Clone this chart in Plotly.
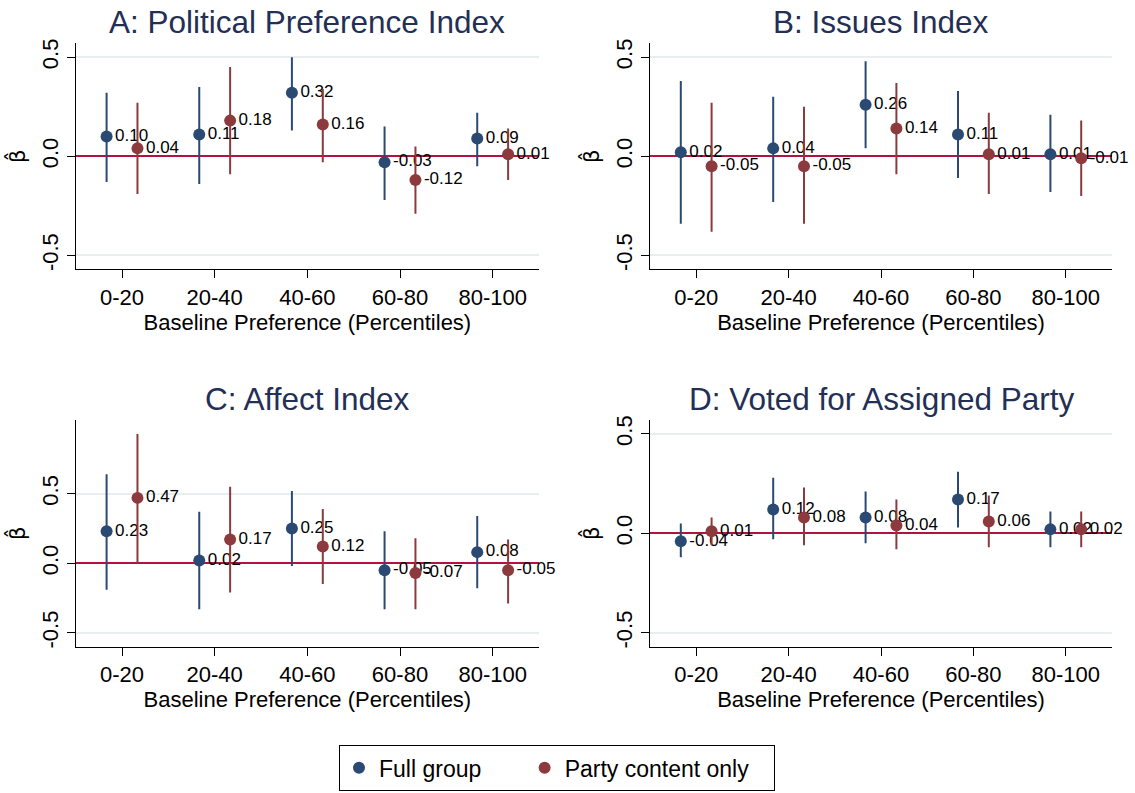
import plotly.graph_objects as go

# Percentile bins of baseline preference
categories = ["0-20", "20-40", "40-60", "60-80", "80-100"]

# Panel A: Political Preference Index
a_full = [0.10, 0.11, 0.32, -0.03, 0.09]
a_full_lo = [-0.13, -0.14, 0.13, -0.22, -0.05]
a_full_hi = [0.32, 0.35, 0.50, 0.15, 0.22]
a_party = [0.04, 0.18, 0.16, -0.12, 0.01]
a_party_lo = [-0.19, -0.09, -0.03, -0.29, -0.12]
a_party_hi = [0.27, 0.45, 0.34, 0.05, 0.14]

# Panel B: Issues Index
b_full = [0.02, 0.04, 0.26, 0.11, 0.01]
b_full_lo = [-0.34, -0.23, 0.04, -0.11, -0.18]
b_full_hi = [0.38, 0.30, 0.48, 0.33, 0.21]
b_party = [-0.05, -0.05, 0.14, 0.01, -0.01]
b_party_lo = [-0.38, -0.34, -0.09, -0.19, -0.20]
b_party_hi = [0.27, 0.25, 0.37, 0.22, 0.18]

# Panel C: Affect Index
c_full = [0.23, 0.02, 0.25, -0.05, 0.08]
c_full_lo = [-0.19, -0.33, -0.02, -0.33, -0.18]
c_full_hi = [0.64, 0.37, 0.52, 0.23, 0.34]
c_party = [0.47, 0.17, 0.12, -0.07, -0.05]
c_party_lo = [0.00, -0.21, -0.15, -0.33, -0.29]
c_party_hi = [0.93, 0.55, 0.39, 0.18, 0.17]

# Panel D: Voted for Assigned Party
d_full = [-0.04, 0.12, 0.08, 0.17, 0.02]
d_full_lo = [-0.12, -0.03, -0.05, 0.03, -0.07]
d_full_hi = [0.05, 0.28, 0.21, 0.31, 0.11]
d_party = [0.01, 0.08, 0.04, 0.06, 0.02]
d_party_lo = [-0.06, -0.06, -0.08, -0.07, -0.07]
d_party_hi = [0.08, 0.23, 0.17, 0.19, 0.11]

panel_titles = ["A: Political Preference Index", "B: Issues Index",
                "C: Affect Index", "D: Voted for Assigned Party"]
series_names = ["Full group", "Party content only"]

panels = [
    (a_full, a_full_lo, a_full_hi, a_party, a_party_lo, a_party_hi),
    (b_full, b_full_lo, b_full_hi, b_party, b_party_lo, b_party_hi),
    (c_full, c_full_lo, c_full_hi, c_party, c_party_lo, c_party_hi),
    (d_full, d_full_lo, d_full_hi, d_party, d_party_lo, d_party_hi),
]

W, H = 1135, 793
NAVY = "#2a4a74"
MAROON = "#8c3a3e"
ZERO = "#b3123f"
GRID = "#e6eef0"
TITLE_COL = "#232f55"
FONT = "Liberation Sans, Arial, sans-serif"
OFFSET = 1 / 6
NBSP = "\u00a0"

# plot-area boxes in pixels: (left, right, top, bottom)
boxes = [
    (75.7, 539.0, 43.3, 269.3),
    (650.0, 1112.0, 43.3, 269.3),
    (75.7, 539.0, 420.0, 646.7),
    (650.0, 1112.0, 420.0, 646.7),
]
y_ranges = [[-0.57, 0.57], [-0.57, 0.57], [-0.60, 1.03], [-0.57, 0.57]]

# legend labels, padded with spaces to widen the key spacing and the box
legend_labels = [series_names[0] + NBSP * 6, series_names[1] + NBSP * 3]

fig = go.Figure()
annotations = []

for i, (box, data) in enumerate(zip(boxes, panels)):
    n = i + 1
    xa = "x" if n == 1 else f"x{n}"
    ya = "y" if n == 1 else f"y{n}"
    l, r, t, b = box
    groups = [
        (data[0], data[1], data[2], NAVY, -OFFSET, legend_labels[0]),
        (data[3], data[4], data[5], MAROON, OFFSET, legend_labels[1]),
    ]
    for est, lo, hi, col, off, name in groups:
        xs = [k + off for k in range(len(categories))]
        fig.add_trace(go.Scatter(
            x=xs, y=est, xaxis=xa, yaxis=ya,
            mode="markers+text",
            name=name, showlegend=(i == 0), legendgroup=name,
            marker=dict(color=col, size=12),
            text=[f"{v:.2f}" for v in est],
            textposition="middle right",
            textfont=dict(family=FONT, size=17, color="black"),
            error_y=dict(type="data", symmetric=False,
                         array=[h - e for h, e in zip(hi, est)],
                         arrayminus=[e - lo_ for e, lo_ in zip(est, lo)],
                         color=col, thickness=2, width=0),
            cliponaxis=False,
        ))
    sx = "" if n == 1 else str(n)
    fig.layout[f"xaxis{sx}"] = dict(
        domain=[l / W, r / W], anchor=ya, range=[-0.5, 4.5],
        tickmode="array", tickvals=list(range(len(categories))), ticktext=categories,
        ticks="outside", ticklen=8, tickwidth=1.3, tickcolor="black",
        showline=True, linecolor="black", linewidth=1.3, showgrid=False,
        zeroline=False, automargin=False,
        tickfont=dict(family=FONT, size=22, color="black"),
        title=dict(text="Baseline Preference (Percentiles)", standoff=0,
                   font=dict(family=FONT, size=22, color="black")),
    )
    fig.layout[f"yaxis{sx}"] = dict(
        domain=[1 - b / H, 1 - t / H], anchor=xa, range=y_ranges[i],
        tickmode="array", tickvals=[-0.5, 0.0, 0.5], ticktext=["-0.5", "0.0", "0.5"],
        ticks="outside", ticklen=8, tickwidth=1.3, tickcolor="black",
        tickangle=-90,
        showline=True, linecolor="black", linewidth=1.3,
        showgrid=True, gridcolor=GRID, gridwidth=1.5,
        zeroline=True, zerolinecolor=ZERO, zerolinewidth=2.2,
        automargin=False,
        tickfont=dict(family=FONT, size=22, color="black"),
        title=dict(text="β\u0302", standoff=6,
                   font=dict(family="DejaVu Sans, sans-serif", size=21, color="black")),
    )
    annotations.append(dict(
        text=panel_titles[i], xref="paper", yref="paper",
        x=(l + r) / 2 / W, y=1 - (t - 21) / H, xanchor="center", yanchor="middle",
        showarrow=False, font=dict(family=FONT, size=31.5, color=TITLE_COL),
    ))

fig.update_layout(
    width=W, height=H,
    margin=dict(l=0, r=0, t=0, b=0),
    paper_bgcolor="white", plot_bgcolor="white",
    annotations=annotations,
    legend=dict(orientation="h", x=339 / W, y=1 - 745 / H,
                xanchor="left", yanchor="top",
                bordercolor="black", borderwidth=1.3,
                font=dict(family=FONT, size=23, color="black"),
                itemsizing="constant"),
)

fig.write_html("out.html")
